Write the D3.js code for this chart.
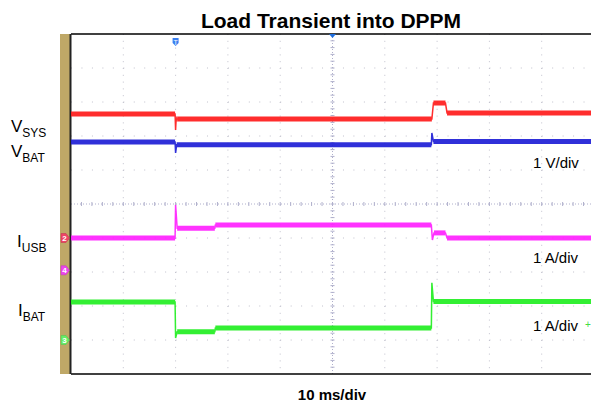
<!DOCTYPE html>
<html>
<head>
<meta charset="utf-8">
<script src="https://cdn.jsdelivr.net/npm/d3@7"></script>
<style>
  body { margin: 0; background: #fff; }
  text { font-family: "Liberation Sans", Arial, sans-serif; }
</style>
</head>
<body>
<div id="chart"></div>
<script>
// Load transient scope capture, values in screen divisions (0 = bottom, 10 = top)
// time in ms, 10 ms/div
const vsysT = [0, 19.9, 20, 20.1, 20.3, 69, 69.3, 71.6, 71.9, 100];
const vsysV = [7.65, 7.65, 7.18, 7.5, 7.5, 7.5, 7.97, 7.97, 7.68, 7.68];

const vbatT = [0, 19.9, 20, 20.2, 68.9, 69, 69.3, 100];
const vbatV = [6.82, 6.82, 6.5, 6.74, 6.74, 7.09, 6.84, 6.84];

const iusbT = [0, 19.9, 20, 20.3, 27.5, 27.6, 68.9, 69.1, 69.4, 71.6, 71.9, 100];
const iusbV = [4.0, 4.0, 4.97, 4.29, 4.29, 4.38, 4.38, 3.94, 4.15, 4.15, 4.0, 4.0];

const ibatT = [0, 19.9, 20, 20.3, 27.5, 27.6, 68.9, 69, 69.3, 100];
const ibatV = [2.12, 2.12, 1.06, 1.24, 1.24, 1.35, 1.35, 2.68, 2.13, 2.13];

const seriesNames = ["VSYS", "VBAT", "IUSB", "IBAT"];
const seriesColors = ["#ff1c1c", "#1f1fd6", "#ff22ff", "#22ee22"];

const W = 591, H = 408;
const plotLeft = 71, plotTop = 34, plotW = 523, plotH = 340;

const svg = d3.select("#chart").append("svg")
  .attr("width", W).attr("height", H);

const x = d3.scaleLinear().domain([0, 100]).range([plotLeft, plotLeft + plotW]);
const y = d3.scaleLinear().domain([0, 10]).range([plotTop + plotH, plotTop]);

// title
svg.append("text")
  .attr("x", 331).attr("y", 28)
  .attr("text-anchor", "middle")
  .attr("font-size", 21).attr("font-weight", "bold")
  .text("Load Transient into DPPM");

// tan channel bar
svg.append("rect")
  .attr("x", 60).attr("y", plotTop).attr("width", 10).attr("height", plotH)
  .attr("fill", "#bfa867");

// grid - dotted
const grid = svg.append("g");
d3.range(1, 10).forEach(i => {
  if (i === 5) return;
  grid.append("line")
    .attr("x1", x(i * 10)).attr("x2", x(i * 10))
    .attr("y1", plotTop).attr("y2", plotTop + plotH)
    .attr("stroke", "#c0c0cc").attr("stroke-width", 1)
    .attr("stroke-dasharray", "1," + (plotH / 50 - 1));
  grid.append("line")
    .attr("x1", plotLeft).attr("x2", W)
    .attr("y1", y(i)).attr("y2", y(i))
    .attr("stroke", "#c0c0cc").attr("stroke-width", 1)
    .attr("stroke-dasharray", "1," + (plotW / 50 - 1));
});
// center lines with small ticks
grid.append("line")
  .attr("x1", x(50)).attr("x2", x(50))
  .attr("y1", plotTop).attr("y2", plotTop + plotH)
  .attr("stroke", "#b0b0cc").attr("stroke-dasharray", "1,2");
grid.append("line")
  .attr("x1", plotLeft).attr("x2", W)
  .attr("y1", y(5)).attr("y2", y(5))
  .attr("stroke", "#b0b0cc").attr("stroke-dasharray", "1,2");
grid.selectAll(".vt").data(d3.range(1, 50)).enter().append("line")
  .attr("x1", x(50) - 2).attr("x2", x(50) + 2)
  .attr("y1", d => y(d / 5)).attr("y2", d => y(d / 5))
  .attr("stroke", "#b0b0cc");
grid.selectAll(".ht").data(d3.range(1, 50)).enter().append("line")
  .attr("x1", d => x(d * 2)).attr("x2", d => x(d * 2))
  .attr("y1", y(5) - 2).attr("y2", y(5) + 2)
  .attr("stroke", "#b0b0cc");

// frame
svg.append("line").attr("x1", plotLeft).attr("x2", W).attr("y1", plotTop).attr("y2", plotTop)
  .attr("stroke", "#000").attr("stroke-width", 1.5);
svg.append("line").attr("x1", plotLeft).attr("x2", W).attr("y1", plotTop + plotH).attr("y2", plotTop + plotH)
  .attr("stroke", "#000").attr("stroke-width", 1.5);
svg.append("line").attr("x1", plotLeft - 0.5).attr("x2", plotLeft - 0.5).attr("y1", plotTop).attr("y2", plotTop + plotH)
  .attr("stroke", "#222").attr("stroke-width", 2);

// traces: thin edges, thick noisy-looking flat parts
const lineLin = d3.line().x(d => x(d[0])).y(d => y(d[1]));
const allT = [vsysT, vbatT, iusbT, ibatT];
const allV = [vsysV, vbatV, iusbV, ibatV];
allT.forEach((ts, k) => {
  const pts = ts.map((t, i) => [t, allV[k][i]]);
  const g = svg.append("g").attr("opacity", 0.92);
  g.append("path")
    .attr("d", lineLin(pts))
    .attr("fill", "none")
    .attr("stroke", seriesColors[k])
    .attr("stroke-width", 1.5);
  for (let i = 1; i < pts.length; i++) {
    if (pts[i][1] === pts[i - 1][1]) {
      g.append("path")
        .attr("d", lineLin([pts[i - 1], pts[i]]))
        .attr("stroke", seriesColors[k])
        .attr("stroke-width", 5);
    }
  }
});

// channel markers on tan bar
function marker(yy, col, label) {
  const g = svg.append("g").attr("transform", `translate(61,${yy})`);
  g.append("path")
    .attr("d", "M0,-4.5 L5,-4.5 L8.5,0 L5,4.5 L0,4.5 Z")
    .attr("fill", col).attr("stroke", d3.color(col).darker(0.5)).attr("stroke-width", 0.6);
  g.append("text").attr("x", 3.5).attr("y", 3)
    .attr("font-size", 8).attr("fill", "#fff").attr("font-weight", "bold")
    .attr("text-anchor", "middle").text(label);
}
marker(y(4.0), "#ee4466", "2");
marker(y(3.05), "#ee44ee", "4");
marker(y(1.0), "#66ee66", "3");

// trigger marker
svg.append("path")
  .attr("d", `M${x(20) - 3},${plotTop + 4} h6 v5 l-3,3 l-3,-3 Z`)
  .attr("fill", "#3a7ff0");
svg.append("text").attr("x", x(20)).attr("y", plotTop + 11)
  .attr("font-size", 7).attr("fill", "#fff").attr("text-anchor", "middle").text("T");
svg.append("path")
  .attr("d", `M${x(50) - 3.5},${plotTop} L${x(50) + 3.5},${plotTop} L${x(50)},${plotTop + 4} Z`)
  .attr("fill", "#1f6fe0");

// signal labels
function sigLabel(xx, yy, main, sub) {
  const t = svg.append("text").attr("x", xx).attr("y", yy).attr("font-size", 17);
  t.append("tspan").text(main);
  t.append("tspan").attr("font-size", 12).attr("dy", 5).text(sub);
}
sigLabel(11, 132, "V", "SYS");
sigLabel(11, 157, "V", "BAT");
sigLabel(17, 247, "I", "USB");
sigLabel(18, 316, "I", "BAT");

// scale labels
const scaleLabels = ["1 V/div", "1 A/div", "1 A/div"];
const scaleY = [168, 263, 331];
scaleLabels.forEach((s, i) => {
  svg.append("text").attr("x", 533).attr("y", scaleY[i])
    .attr("font-size", 15).text(s);
});
svg.append("text").attr("x", 585).attr("y", 328)
  .attr("font-size", 10).attr("fill", "#44dd44").text("+");

// time base
svg.append("text").attr("x", 332).attr("y", 400)
  .attr("text-anchor", "middle").attr("font-size", 15).attr("font-weight", "bold")
  .text("10 ms/div");
</script>
</body>
</html>
